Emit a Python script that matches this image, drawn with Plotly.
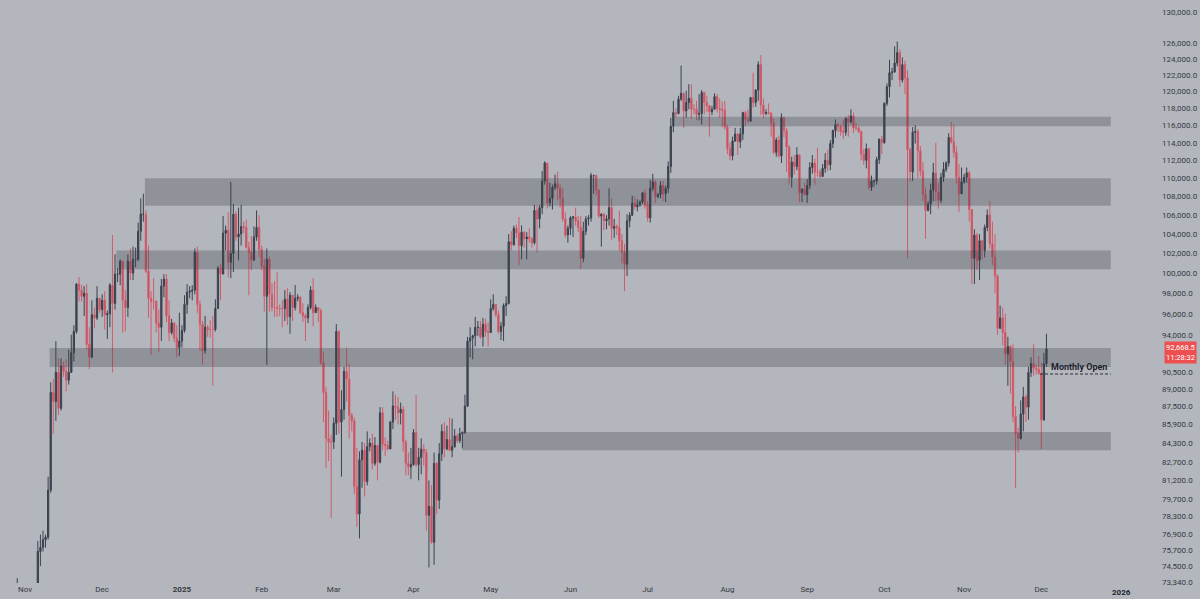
import math
import pandas as pd
import plotly.graph_objects as go

# ---------------- data (BTC/USD daily, values in thousands of USD) ----------------
start_date = "2024-10-28"
first_open_k = 67.9

close_k = [
    69.9, 72.7, 72.3, 70.2,  # Oct 2024 (28-31)
    69.5, 69.3, 68.7, 67.8, 69.4, 75.6, 75.9, 76.5, 76.7, 80.4, 88.7, 87.9, 90.5, 87.3, 91.1, 90.6, 89.8, 90.5, 92.3, 94.3, 98.9, 98.3, 97.7, 98.0, 93.1, 91.9, 95.9, 95.6, 97.5, 96.4,  # Nov
    97.3, 95.9, 96.0, 98.8, 97.0, 99.9, 99.9, 101.2, 97.3, 96.6, 101.2, 100.0, 101.4, 101.4, 104.3, 106.1, 106.1, 100.2, 97.5, 97.2, 97.2, 95.1, 94.7, 98.7, 99.4, 95.8, 94.2, 95.1, 93.7, 92.8, 93.4,  # Dec
    94.4, 96.9, 98.1, 98.2, 98.3, 102.1, 96.9, 95.0, 92.5, 94.7, 94.5, 94.5, 94.5, 96.5, 100.5, 99.9, 104.1, 104.4, 101.1, 102.0, 106.1, 103.7, 104.0, 104.8, 104.7, 102.6, 102.1, 101.3, 103.7, 104.7, 102.4,  # Jan 2025
    100.7, 97.7, 101.4, 97.9, 96.6, 96.6, 96.5, 96.5, 96.5, 97.4, 95.7, 97.8, 96.6, 97.5, 97.6, 96.1, 95.8, 95.6, 96.6, 98.3, 96.1, 96.6, 96.3, 91.4, 88.7, 84.7, 84.4, 84.4,  # Feb
    86.0, 94.3, 86.1, 87.2, 90.6, 89.9, 86.7, 86.2, 80.7, 78.5, 82.9, 83.7, 81.1, 84.0, 84.3, 82.6, 84.1, 82.7, 86.9, 84.2, 84.1, 83.8, 86.1, 87.5, 87.4, 86.9, 87.2, 84.4, 82.6, 82.3, 82.5,  # Mar
    85.2, 82.5, 83.1, 83.8, 83.5, 78.4, 79.1, 76.3, 82.6, 79.6, 83.4, 85.3, 83.8, 84.6, 83.7, 84.0, 84.9, 84.5, 85.1, 85.2, 87.5, 93.4, 93.7, 93.9, 94.7, 94.7, 93.8, 95.0, 94.3, 94.2,  # Apr
    96.5, 96.9, 95.9, 94.3, 94.8, 96.8, 97.0, 103.2, 102.9, 104.6, 104.1, 102.8, 104.2, 103.5, 103.7, 103.5, 103.1, 106.5, 105.6, 106.8, 109.7, 111.7, 107.3, 107.8, 109.0, 109.4, 108.9, 107.8, 105.6, 103.9, 104.6,  # May
    105.7, 105.8, 105.4, 104.7, 101.5, 104.3, 105.6, 105.7, 110.3, 110.3, 108.7, 105.9, 106.1, 105.4, 105.6, 106.8, 104.6, 104.8, 104.7, 103.3, 102.1, 100.9, 105.4, 106.0, 107.3, 106.9, 107.1, 107.4, 108.4, 107.1,  # Jun
    105.7, 108.9, 109.6, 108.0, 108.2, 109.2, 108.3, 108.9, 111.3, 115.9, 117.5, 117.4, 119.1, 119.8, 117.7, 118.7, 119.2, 117.9, 117.9, 117.3, 117.4, 119.9, 118.7, 118.3, 117.6, 117.9, 119.4, 118.0, 117.9, 117.8, 115.8,  # Jul
    113.3, 112.5, 114.2, 115.0, 114.1, 115.0, 117.5, 116.7, 116.5, 119.3, 118.7, 120.2, 123.3, 118.4, 117.4, 117.5, 117.4, 116.3, 112.9, 114.3, 112.5, 116.9, 115.4, 113.5, 110.1, 111.8, 111.3, 112.6, 108.4, 108.8, 108.2,  # Aug
    109.2, 111.2, 111.7, 110.7, 110.7, 110.2, 111.1, 112.0, 111.5, 113.9, 115.4, 116.1, 115.9, 115.3, 115.2, 116.8, 116.4, 117.1, 115.7, 115.7, 115.3, 112.7, 112.0, 113.3, 109.0, 109.7, 109.7, 112.1, 114.4, 114.0,  # Sep
    118.6, 120.6, 122.3, 122.4, 123.5, 124.8, 121.4, 123.3, 121.7, 113.2, 110.7, 115.2, 115.3, 113.1, 110.8, 108.2, 106.5, 107.2, 108.7, 110.6, 108.5, 107.6, 110.1, 111.0, 111.7, 114.6, 114.1, 112.9, 110.1, 108.3, 109.6,  # Oct
    110.1, 110.6, 106.6, 101.5, 103.9, 101.3, 103.3, 102.3, 104.7, 106.0, 103.0, 101.6, 99.7, 94.6, 95.6, 94.2, 92.2, 92.9, 91.5, 86.6, 85.1, 84.7, 86.8, 88.3, 87.4, 90.5, 91.3, 90.9, 90.8, 90.4,  # Nov
    86.3, 91.3, 92.6685,  # Dec 2025 (1-3)
]

high_k = [
    70.2, 73.6, 72.9, 72.7,
    71.6, 69.9, 69.4, 69.0, 70.5, 76.4, 76.9, 77.2, 76.9, 81.5, 89.6, 89.9, 93.4, 91.8, 91.8, 91.5, 91.7, 92.6, 94.0, 94.9, 99.0, 99.6, 98.8, 98.7, 98.9, 94.7, 97.3, 96.6, 98.7, 97.5,
    97.9, 98.2, 96.3, 99.0, 103.9, 101.9, 100.5, 101.4, 101.2, 98.3, 101.9, 102.5, 102.7, 102.6, 105.2, 107.8, 108.3, 106.5, 102.8, 98.2, 99.5, 97.3, 96.4, 99.4, 99.9, 99.9, 97.3, 95.5, 95.2, 94.9, 96.1,
    94.9, 97.8, 98.9, 98.7, 98.8, 102.5, 102.7, 97.3, 95.3, 95.8, 94.9, 95.4, 95.8, 97.4, 100.7, 100.9, 105.9, 104.9, 106.3, 109.6, 107.2, 106.4, 106.8, 107.1, 105.3, 105.5, 103.2, 103.8, 104.8, 106.5, 106.0,
    102.8, 101.5, 102.5, 101.7, 99.0, 99.2, 100.1, 96.9, 97.3, 98.3, 98.5, 98.1, 97.3, 98.8, 97.9, 97.7, 97.0, 96.0, 96.9, 98.7, 99.5, 96.9, 96.6, 96.5, 92.4, 89.2, 87.1, 85.0,
    86.5, 95.0, 94.4, 88.9, 91.0, 92.8, 91.3, 86.9, 86.5, 83.9, 83.6, 84.4, 84.3, 85.3, 84.7, 85.1, 84.8, 83.9, 87.4, 87.4, 84.8, 84.5, 86.2, 88.8, 88.5, 88.3, 87.8, 87.5, 84.6, 83.5, 83.9,
    85.5, 88.5, 83.9, 84.7, 84.2, 83.8, 81.2, 80.8, 83.5, 82.7, 84.3, 85.9, 86.1, 85.8, 86.5, 86.4, 85.5, 85.1, 85.6, 85.3, 88.5, 93.8, 94.7, 94.0, 95.7, 95.3, 95.3, 95.6, 95.5, 95.2,
    97.4, 97.9, 96.9, 96.3, 95.2, 97.0, 97.7, 104.0, 104.3, 104.9, 105.0, 105.8, 104.9, 104.3, 104.2, 104.6, 103.7, 107.1, 107.0, 107.1, 110.8, 111.9, 111.3, 109.5, 109.3, 110.4, 110.7, 109.3, 108.9, 106.3, 104.9,
    105.9, 105.9, 106.8, 105.9, 105.9, 105.3, 105.9, 106.0, 110.6, 110.4, 110.4, 108.8, 106.2, 106.2, 106.0, 108.9, 107.8, 105.6, 105.0, 106.5, 104.0, 103.0, 106.1, 106.3, 108.1, 108.0, 107.7, 107.6, 108.5, 108.8,
    107.5, 109.8, 110.5, 109.8, 108.4, 109.7, 109.7, 109.2, 111.9, 116.9, 118.9, 118.0, 119.5, 123.2, 119.9, 120.1, 120.9, 120.9, 118.5, 118.9, 119.7, 120.2, 120.0, 119.5, 118.4, 118.3, 119.8, 119.7, 119.2, 118.8, 118.9,
    116.1, 114.0, 114.7, 115.7, 115.1, 115.7, 117.6, 117.7, 117.9, 119.3, 122.3, 120.3, 123.7, 124.5, 119.2, 117.9, 118.6, 117.6, 116.8, 114.6, 114.8, 117.4, 117.0, 115.7, 113.7, 112.4, 112.6, 113.5, 112.7, 108.9, 109.5,
    109.9, 111.8, 112.6, 112.2, 113.4, 111.0, 111.6, 112.8, 113.2, 114.3, 115.5, 116.7, 116.3, 116.1, 116.7, 117.0, 117.2, 117.9, 117.5, 116.3, 115.9, 115.4, 113.3, 113.9, 113.4, 110.3, 109.8, 112.4, 114.5, 114.8,
    118.7, 121.0, 123.9, 122.9, 125.6, 126.2, 125.2, 124.2, 123.8, 122.6, 113.4, 115.8, 116.0, 115.6, 113.6, 111.8, 109.0, 107.5, 109.4, 111.7, 114.0, 109.5, 110.6, 111.8, 111.9, 115.1, 116.4, 116.1, 113.6, 111.6, 111.2,
    110.5, 111.2, 110.8, 106.6, 104.5, 104.1, 104.0, 103.4, 105.0, 106.6, 107.5, 105.3, 104.0, 99.9, 96.8, 96.6, 96.0, 93.8, 93.0, 93.1, 87.5, 85.6, 88.0, 89.2, 88.5, 91.0, 91.9, 93.1, 91.2, 92.0,
    91.4, 92.3, 94.1,
]

low_k = [
    67.6, 69.7, 71.4, 69.7,
    68.8, 68.9, 66.8, 66.8, 67.5, 69.3, 74.5, 75.6, 75.9, 76.5, 80.2, 85.1, 86.2, 86.7, 87.1, 90.1, 88.8, 89.4, 90.5, 91.5, 94.1, 97.2, 97.2, 95.8, 92.6, 90.8, 91.8, 94.6, 95.4, 96.1,
    95.7, 94.5, 93.6, 94.7, 90.5, 96.4, 99.1, 98.8, 94.2, 94.3, 95.7, 99.3, 99.3, 100.6, 101.2, 103.3, 105.3, 100.0, 95.6, 92.1, 96.4, 94.2, 92.4, 93.4, 97.6, 95.2, 93.4, 94.0, 93.3, 91.9, 92.0,
    92.8, 94.2, 96.0, 97.5, 97.3, 97.9, 96.1, 92.5, 91.2, 92.2, 93.8, 93.7, 89.3, 94.3, 96.5, 97.3, 99.9, 102.3, 99.6, 99.5, 100.1, 103.3, 101.3, 102.8, 104.1, 102.5, 97.8, 100.3, 101.3, 103.3, 101.6,
    100.3, 96.2, 91.2, 96.2, 96.2, 95.7, 95.7, 95.8, 94.7, 95.3, 94.9, 94.1, 95.3, 96.3, 97.2, 96.0, 95.2, 93.4, 95.1, 96.4, 94.8, 96.1, 95.2, 91.2, 86.1, 82.2, 82.8, 78.2,
    83.8, 85.0, 85.1, 81.5, 86.3, 87.9, 84.7, 85.3, 80.1, 77.5, 76.6, 80.6, 79.9, 80.8, 83.6, 82.1, 82.4, 81.2, 82.6, 83.7, 83.2, 83.7, 83.8, 85.5, 86.3, 85.9, 85.9, 83.6, 81.6, 81.6, 81.3,
    82.4, 82.3, 81.2, 81.7, 82.4, 77.2, 74.4, 76.2, 74.6, 78.5, 78.9, 82.8, 83.1, 83.7, 83.6, 83.1, 83.9, 84.3, 84.3, 83.9, 85.1, 87.4, 91.9, 91.7, 92.9, 93.9, 93.6, 92.9, 93.8, 92.9,
    94.2, 96.3, 95.7, 94.1, 93.5, 93.4, 95.8, 96.9, 102.3, 102.8, 103.6, 100.8, 101.4, 102.6, 101.4, 103.1, 102.6, 102.9, 102.1, 104.6, 106.1, 109.3, 106.7, 106.9, 106.6, 108.7, 107.6, 106.8, 105.3, 103.6, 103.1,
    103.9, 103.7, 104.9, 104.2, 100.4, 101.1, 103.9, 104.9, 105.3, 108.3, 108.1, 105.7, 102.7, 104.4, 104.5, 104.9, 103.4, 103.6, 103.9, 102.3, 101.0, 98.2, 99.7, 104.7, 105.9, 106.6, 106.4, 106.9, 107.2, 106.7,
    105.3, 105.2, 108.6, 107.3, 107.8, 107.8, 107.5, 107.4, 108.4, 110.6, 115.2, 116.9, 117.3, 118.9, 115.7, 116.9, 117.9, 116.8, 117.3, 116.6, 116.6, 116.1, 117.3, 117.6, 114.7, 117.2, 117.9, 117.5, 116.9, 115.8, 115.5,
    112.7, 112.0, 112.0, 114.1, 112.6, 113.4, 114.3, 115.9, 116.3, 116.5, 118.1, 118.2, 118.9, 117.2, 116.8, 117.2, 117.3, 114.7, 112.7, 112.4, 112.3, 111.7, 114.6, 110.7, 109.3, 109.0, 110.4, 110.9, 107.4, 107.4, 108.1,
    107.3, 108.8, 110.5, 109.3, 110.2, 110.0, 110.2, 110.6, 110.8, 110.9, 113.4, 114.6, 115.2, 114.8, 114.4, 114.8, 114.7, 116.2, 115.1, 115.4, 115.1, 112.0, 111.5, 111.1, 108.7, 108.6, 109.1, 109.3, 111.6, 112.7,
    113.9, 118.3, 119.3, 121.4, 122.3, 123.1, 120.6, 121.1, 119.7, 101.5, 109.6, 109.7, 113.9, 110.0, 110.2, 107.5, 103.5, 106.4, 106.1, 107.5, 107.5, 106.7, 107.3, 109.6, 110.7, 111.3, 113.9, 112.3, 109.4, 106.3, 108.7,
    109.4, 109.5, 105.3, 98.9, 98.9, 100.3, 99.3, 101.4, 101.6, 104.3, 102.5, 100.8, 98.0, 94.0, 94.6, 93.0, 91.2, 89.3, 88.6, 86.1, 80.6, 83.5, 84.6, 85.3, 86.1, 86.3, 90.1, 90.2, 90.3, 90.3,
    83.8, 86.2, 91.0,
]

# horizontal zones (price bands)
zone_low = [115900, 107000, 100400, 91000, 83700]
zone_high = [117000, 110000, 102300, 92750, 85250]
zone_start = ["2025-07-11T14:00", "2024-12-17T14:00", "2024-12-06T12:00", "2024-11-10T14:00", "2025-04-19T20:00"]
zone_end = "2025-12-28"

monthly_open = 90360
monthly_open_start = "2025-11-30T12:00"
last_price = 92668.5
countdown = "11:28:32"

y_tick_values = [130000, 126000, 124000, 122000, 120000, 118000, 116000, 114000, 112000, 110000,
                 108000, 106000, 104000, 102000, 100000, 98000, 96000, 94000, 90500, 89000,
                 87500, 85900, 84300, 82700, 81200, 79700, 78300, 76900, 75700, 74500, 73340]
month_ticks = ["2024-11-01", "2024-12-01", "2025-01-01", "2025-02-01", "2025-03-01", "2025-04-01",
               "2025-05-01", "2025-06-01", "2025-07-01", "2025-08-01", "2025-09-01", "2025-10-01",
               "2025-11-01", "2025-12-01"]
month_labels = ["Nov", "Dec", "<b>2025</b>", "Feb", "Mar", "Apr", "May", "Jun", "Jul", "Aug",
                "Sep", "Oct", "Nov", "Dec"]

# ---------------- build ----------------
dates = pd.date_range(start_date, periods=len(close_k), freq="D")
close = [c * 1000 for c in close_k]
high = [h * 1000 for h in high_k]
low = [l * 1000 for l in low_k]
open_ = [first_open_k * 1000] + close[:-1]

BG = "#b3b6bd"
TXT = "#353941"
UP = "#3b424e"
DOWN_LINE = "#d35a68"
DOWN_FILL = "#c24452"

fig = go.Figure()
fig.add_trace(go.Candlestick(
    x=dates, open=open_, high=high, low=low, close=close,
    increasing=dict(line=dict(color=UP, width=1), fillcolor=UP),
    decreasing=dict(line=dict(color=DOWN_LINE, width=1), fillcolor=DOWN_FILL),
    whiskerwidth=0, showlegend=False, hoverinfo="skip",
))

for lo, hi, x0 in zip(zone_low, zone_high, zone_start):
    fig.add_shape(type="rect", xref="x", yref="y", x0=x0, x1=zone_end,
                  y0=lo, y1=hi, fillcolor="rgba(62,64,72,0.30)", line=dict(width=0),
                  layer="above")

fig.add_shape(type="line", xref="x", yref="y", x0=monthly_open_start, x1=zone_end,
              y0=monthly_open, y1=monthly_open,
              line=dict(color="#2a2e39", width=1, dash="3px,2px"), layer="above")
fig.add_annotation(x=zone_end, y=math.log10(monthly_open), xref="x", yref="y",
                   text="<b>Monthly Open</b>", showarrow=False, xanchor="right",
                   yanchor="bottom", yshift=0, xshift=-2,
                   font=dict(size=9, color="#1e222d", family="Roboto"))

# last price label on the price scale
fig.add_annotation(x=1180 / 1117, y=math.log10(last_price), xref="paper", yref="y",
                   text=f"{last_price:,.1f}<br>{countdown}", showarrow=False,
                   xanchor="center", yanchor="middle", yshift=-4,
                   bgcolor="rgba(242,70,70,0.92)", borderpad=1,
                   font=dict(size=7.5, color="white", family="Roboto"))

# 2026 label at the right end of the time scale
fig.add_annotation(x=1121 / 1117, y=-0.0155, xref="paper", yref="paper",
                   text="<b>2026</b>", showarrow=False, xanchor="center", yanchor="middle",
                   font=dict(size=8, color="#1e222d", family="Roboto"))

y_lo, y_hi = 73244, 131578
fig.update_layout(
    width=1200, height=599,
    paper_bgcolor=BG, plot_bgcolor=BG,
    margin=dict(l=0, r=83, t=0, b=16),
    font=dict(family="Roboto", size=8, color=TXT),
    showlegend=False,
    xaxis=dict(
        type="date", range=["2024-10-22T07:00", "2025-12-30T10:00"],
        rangeslider=dict(visible=False), showgrid=False, zeroline=False,
        showline=False, ticks="", tickvals=month_ticks, ticktext=month_labels,
        tickfont=dict(size=8, color=TXT),
    ),
    yaxis=dict(
        type="log", side="right", range=[math.log10(y_lo), math.log10(y_hi)],
        showgrid=False, zeroline=False, showline=False, ticks="",
        tickvals=y_tick_values, ticktext=[f"{v:,.1f}" for v in y_tick_values],
        tickfont=dict(size=8, color=TXT), ticklabelstandoff=44,
    ),
)

fig.write_html("out.html", config={"displayModeBar": False},
               post_script="document.body.style.margin='0px';document.body.style.overflow='hidden';")
